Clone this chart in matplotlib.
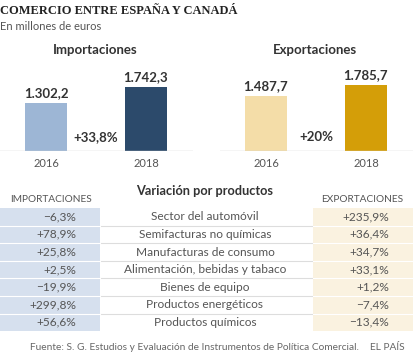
import matplotlib
matplotlib.use('Agg')
import matplotlib.pyplot as plt

# Data
years = ['2016', '2018']
imports = [1302.2, 1742.3]
exports = [1487.7, 1785.7]
import_labels = ['1.302,2', '1.742,3']
export_labels = ['1.487,7', '1.785,7']
import_change = '+33,8%'
export_change = '+20%'

products = ['Sector del automóvil', 'Semifacturas no químicas', 'Manufacturas de consumo',
            'Alimentación, bebidas y tabaco', 'Bienes de equipo', 'Productos energéticos',
            'Productos químicos']
imp_var = ['\u22126,3%', '+78,9%', '+25,8%', '+2,5%', '\u221219,9%', '+299,8%', '+56,6%']
exp_var = ['+235,9%', '+36,4%', '+34,7%', '+33,1%', '+1,2%', '\u22127,4%', '\u221213,4%']

W, H = 414, 359
plt.rcParams['font.family'] = ['Lato', 'DejaVu Sans']
fig = plt.figure(figsize=(W / 100, H / 100), dpi=100)

# background axes in pixel coordinates
bg = fig.add_axes([0, 0, 1, 1])
bg.set_xlim(0, W)
bg.set_ylim(H, 0)
bg.axis('off')

dark = '#333333'
grey = '#555555'

bg.text(0, 11, 'COMERCIO ENTRE ESPAÑA Y CANADÁ', family='Liberation Serif', weight='bold',
        fontsize=9, color='#222222', va='center', ha='left')
bg.text(0, 26, 'En millones de euros', fontsize=8, color=grey, va='center')

bg.text(95, 50, 'Importaciones', fontsize=9.5, weight='bold', color=dark, ha='center', va='center')
bg.text(315, 50, 'Exportaciones', fontsize=9.5, weight='bold', color=dark, ha='center', va='center')

scale = 0.0368  # px per million
panel_h = 75


def bar_panel(x0, width, values, labels, colors, change):
    ax = fig.add_axes([x0 / W, (H - 151) / H, width / W, panel_h / H])
    ax.bar([0, 1], values, width=0.42, color=colors)
    ax.set_xlim(-0.46, -0.46 + width / 100)
    ax.set_ylim(0, panel_h / scale)
    ax.axis('off')
    ax.axhline(0, color='#d0d0d0', lw=1)
    for i, (v, lab) in enumerate(zip(values, labels)):
        ax.annotate(lab, (i, v), xytext=(0, 3), textcoords='offset points', ha='center',
                    va='bottom', fontsize=9.5, weight='bold', color=dark)
        ax.annotate(years[i], (i, 0), xytext=(0, -5), textcoords='offset points', ha='center',
                    va='top', fontsize=8, color=grey, annotation_clip=False)
    ax.annotate(change, (0.5, 0), xytext=(0, 6), textcoords='offset points', ha='center',
                va='bottom', fontsize=9.5, weight='bold', color=dark)
    return ax


bar_panel(0, 193, imports, import_labels, ['#9db6d5', '#2c4a6b'], import_change)
bar_panel(220, 194, exports, export_labels, ['#f4dda8', '#d49e08'], export_change)

# table
row_top = 208
row_h = 17.6
n = len(products)
bg.add_patch(plt.Rectangle((0, row_top), 100, row_h * n, color='#d6e0ee', lw=0))
bg.add_patch(plt.Rectangle((313, row_top), 101, row_h * n, color='#faf2e0', lw=0))
for k in range(1, n):
    y = row_top + k * row_h
    bg.plot([100, 313], [y, y], color='#dddddd', lw=0.8)
    bg.plot([0, 100], [y, y], color='white', lw=0.8)
    bg.plot([313, 414], [y, y], color='white', lw=0.8)

bg.text(51, 199, 'IMPORTACIONES', fontsize=7.3, color=grey, ha='center', va='center')
bg.text(362, 199, 'EXPORTACIONES', fontsize=7.3, color=grey, ha='center', va='center')
bg.text(205, 191, 'Variación por productos', fontsize=9.2, weight='bold', color=dark,
        ha='center', va='center')

for k, (p, iv, ev) in enumerate(zip(products, imp_var, exp_var)):
    y = row_top + (k + 0.5) * row_h
    bg.text(76, y, iv, fontsize=8.6, color=grey, ha='right', va='center')
    bg.text(205, y, p, fontsize=8.6, color=grey, ha='center', va='center')
    bg.text(389, y, ev, fontsize=8.6, color=grey, ha='right', va='center')

bg.text(30, 348, 'Fuente: S. G. Estudios y Evaluación de Instrumentos de Política Comercial.',
        fontsize=7.3, color='#666666', ha='left', va='center')
bg.text(405, 348, 'EL PAÍS', fontsize=7.3, color='#666666', ha='right', va='center')

fig.savefig('out.png', dpi=100)
